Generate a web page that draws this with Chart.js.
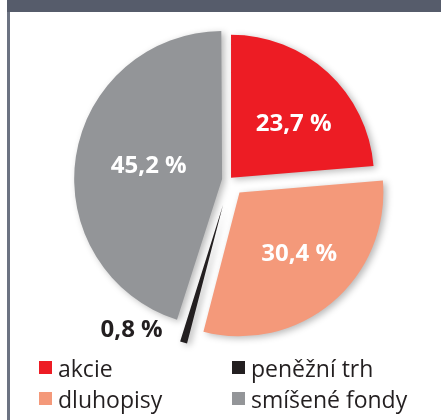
<!DOCTYPE html>
<html>
<head>
<meta charset="utf-8">
<script src="https://cdn.jsdelivr.net/npm/chart.js@4.4.1/dist/chart.umd.min.js"></script>
<style>
  html, body { margin: 0; padding: 0; background: #fff; }
  #frame { position: relative; width: 441px; height: 420px; overflow: hidden; }
  #header { position: absolute; left: 7px; top: 0; width: 434px; height: 12px; background: #565c6b; }
  #edge { position: absolute; left: 7px; top: 12px; width: 3px; height: 408px; background: #6c7382; }
  canvas { position: absolute; }
  #main { left: 59px; top: 10px; }
  #small { left: 53px; top: 35px; }
  #legend {
    position: absolute; left: 39px; top: 352px;
    display: grid; grid-template-rows: 31px 31px; grid-template-columns: 193px 190px;
    grid-auto-flow: column;
    font-family: "Open Sans", sans-serif; font-size: 23px; color: #231f20;
  }
  .item { display: flex; align-items: center; line-height: 24px; }
  .box { width: 13px; height: 13px; margin-right: 6px; flex: none; }
</style>
</head>
<body>
<div id="frame">
  <div id="header"></div>
  <div id="edge"></div>
  <canvas id="main" width="340" height="340"></canvas>
  <canvas id="small" width="340" height="340"></canvas>
  <div id="legend"></div>
</div>
<script>
// podíly v procentech
const kategorie = ['akcie', 'dluhopisy', 'peněžní trh', 'smíšené fondy'];
const podily = [23.7, 30.4, 0.8, 45.2];
const popisky = ['23,7 %', '30,4 %', '0,8 %', '45,2 %'];
const barvy = ['#ed1c24', '#f4997a', '#231f20', '#939598'];

// posunutí výsečí (Chart.js offset, kreslí se /4)
const posun = [12, 65, 0, 28];
// umístění popisků: podíl poloměru a natočení ve stupních
const popisekR = [0.575, 0.6, 1.25, 0.52];
const popisekUhel = [7, -4, 17, 1];
const popisekBarva = ['#fff', '#fff', '#231f20', '#fff'];

// legenda
const legendDiv = document.getElementById('legend');
kategorie.forEach((k, i) => {
  legendDiv.innerHTML += `<div class="item"><span class="box" style="background:${barvy[i]}"></span>${k}</div>`;
});

const stin = {
  id: 'stin',
  beforeDatasetsDraw(chart) {
    const ctx = chart.ctx;
    ctx.save();
    ctx.shadowColor = 'rgba(0,0,0,0.28)';
    ctx.shadowBlur = 7;
    ctx.shadowOffsetX = 3;
    ctx.shadowOffsetY = 2;
  },
  afterDatasetsDraw(chart) {
    chart.ctx.restore();
  }
};

const popiskyPlugin = {
  id: 'popisky',
  afterDraw(chart) {
    const ctx = chart.ctx;
    const meta = chart.getDatasetMeta(0);
    ctx.save();
    ctx.font = 'bold 24px "Open Sans", sans-serif';
    ctx.textAlign = 'center';
    ctx.textBaseline = 'middle';
    meta.data.forEach((arc, i) => {
      const p = arc.getProps(['x', 'y', 'startAngle', 'endAngle', 'outerRadius']);
      const mid = (p.startAngle + p.endAngle) / 2;
      const off = posun[i] / 4;
      const a = mid + popisekUhel[i] * Math.PI / 180;
      const x = p.x + Math.cos(mid) * off + Math.cos(a) * popisekR[i] * p.outerRadius;
      const y = p.y + Math.sin(mid) * off + Math.sin(a) * popisekR[i] * p.outerRadius;
      ctx.fillStyle = popisekBarva[i];
      ctx.fillText(popisky[i], x, y);
    });
    ctx.restore();
  }
};

const spolecne = {
  responsive: false,
  animation: false,
  devicePixelRatio: 1,
  radius: 143,
  layout: { padding: 0 },
  plugins: { legend: { display: false }, tooltip: { enabled: false } }
};

// hlavní koláč (peněžní trh průhledný, kreslí se zvlášť)
new Chart(document.getElementById('main').getContext('2d'), {
  type: 'pie',
  data: {
    labels: kategorie,
    datasets: [{
      data: podily,
      backgroundColor: barvy.map((b, i) => i === 2 ? 'rgba(0,0,0,0)' : b),
      borderWidth: 0,
      offset: posun
    }]
  },
  options: spolecne,
  plugins: [stin, popiskyPlugin]
});

// tenká výseč peněžního trhu, posunutá celým plátnem
new Chart(document.getElementById('small').getContext('2d'), {
  type: 'pie',
  data: {
    labels: kategorie,
    datasets: [{
      data: podily,
      backgroundColor: barvy.map((b, i) => i === 2 ? b : 'rgba(0,0,0,0)'),
      borderWidth: 0
    }]
  },
  options: spolecne,
  plugins: [stin]
});
</script>
</body>
</html>
